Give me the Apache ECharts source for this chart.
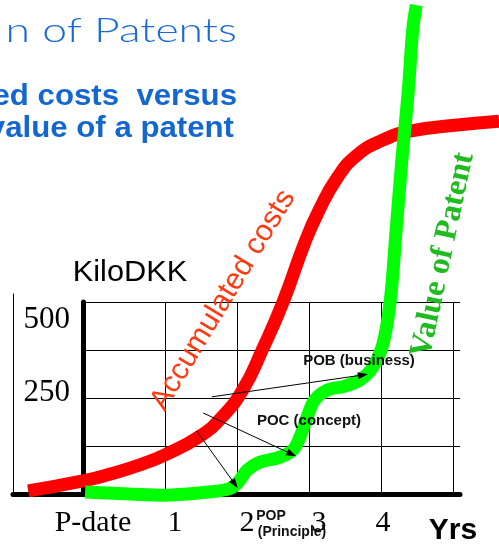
<!DOCTYPE html>
<html>
<head>
<meta charset="utf-8">
<script src="https://cdn.jsdelivr.net/npm/echarts@6/dist/echarts.min.js"></script>
<style>html,body{margin:0;padding:0;background:#fff}#c{width:499px;height:546px}</style>
</head>
<body>
<div id="c"></div>
<script>
// x: years after priority date (P-date = 0), y: KiloDKK
const xTickValues = [0, 1, 2, 3, 4, 5];
const xTickLabels = ['P-date', '1', '2', '3', '4', 'Yrs'];
const yTickValues = [250, 500];
const yTickLabels = ['250', '500'];

const costX = [-0.90, -0.14, 0.24, 0.65, 1.00, 1.49, 1.79, 2.08, 2.35, 2.64, 2.94, 3.13, 3.39, 3.67, 4.03, 4.40, 5.06, 5.64];
const costY = [8, 34, 52, 76, 102, 151, 200, 271, 375, 500, 654, 735, 823, 883, 922, 945, 961, 971];

const valueX = [-0.11, 0.51, 1.00, 1.49, 1.88, 2.01, 2.14, 2.32, 2.60, 2.78, 2.88, 2.97, 3.08, 3.26, 3.50, 3.71, 3.89, 4.03, 4.13, 4.21, 4.29, 4.38, 4.44, 4.49];
const valueY = [5, 0, -3, 3, 13, 29, 62, 83, 96, 115, 151, 198, 245, 271, 281, 297, 331, 393, 505, 687, 870, 1052, 1208, 1273];

const arrowNames = ['POP', 'POC', 'POB'];
const arrowFromX = [1.44, 1.53, 1.65];
const arrowFromY = [164, 211, 253];
const arrowToX = [1.97, 2.76, 3.75];
const arrowToY = [26, 104, 310];

const zip = (a, b) => a.map((v, i) => [v, b[i]]);

const chart = echarts.init(document.getElementById('c'), null, {renderer: 'canvas'});

const serif = '"Liberation Serif", "Times New Roman", serif';
const sans = '"Liberation Sans", Arial, sans-serif';

const option = {
  animation: false,
  grid: [
    {left: 13, right: 39, top: 294, bottom: 52},
    {left: 83, right: 39, top: 302, bottom: 52},
    {left: 93, right: 46, top: 302, bottom: 52},
    // data grid: same scale as grid 2 (72 px per year), widened so the curves can run past the frame
    {left: 21, right: 0, top: 302, bottom: 52}
  ],
  xAxis: [
    {gridIndex: 0, type: 'value', min: 0, max: 1,
      axisLine: {show: true, lineStyle: {color: '#000', width: 5}},
      axisTick: {show: false}, axisLabel: {show: false}, splitLine: {show: false}},
    {gridIndex: 1, type: 'value', min: 0, max: 1, show: false},
    {gridIndex: 2, type: 'value', min: 0, max: 5, interval: 1,
      axisLine: {show: false}, axisTick: {show: false},
      splitLine: {show: true, showMinLine: false, showMaxLine: true, lineStyle: {color: '#000', width: 1}},
      axisLabel: {
        show: true, margin: 14, color: '#000', fontFamily: serif, fontSize: 30,
        showMinLabel: true, showMaxLabel: true,
        formatter: function (v) {
          const i = xTickValues.indexOf(v);
          if (i < 0) return '';
          const t = xTickLabels[i];
          if (t === 'Yrs') return '{y|' + t + '}';
          if (t === 'P-date') return '{p|' + t + '}';
          if (t === '4') return '{f|' + t + '}';
          return '{d|' + t + '}';
        },
        rich: {
          p: {fontFamily: serif, fontSize: 30, color: '#000'},
          d: {fontFamily: serif, fontSize: 30, color: '#000', padding: [0, 0, 0, 20]},
          f: {fontFamily: serif, fontSize: 30, color: '#000', padding: [0, 0, 0, 4]},
          y: {fontFamily: sans, fontSize: 30, fontWeight: 'bold', color: '#000', padding: [8, 0, 0, 0]}
        }
      }},
    {gridIndex: 3, type: 'value', min: -1, max: 5.639, show: false}
  ],
  yAxis: [
    {gridIndex: 0, type: 'value', min: 0, max: 1,
      axisLine: {show: true, lineStyle: {color: '#000', width: 1}},
      axisTick: {show: false}, axisLabel: {show: false}, splitLine: {show: false}},
    {gridIndex: 1, type: 'value', min: 0, max: 500, interval: 125,
      axisLine: {show: true, lineStyle: {color: '#000', width: 5}},
      axisTick: {show: false},
      splitLine: {show: true, showMinLine: false, lineStyle: {color: '#000', width: 1}},
      axisLabel: {
        show: true, margin: 13, color: '#000',
        formatter: function (v) {
          const i = yTickValues.indexOf(v);
          if (i < 0) return '';
          return (v === 500 ? '{a|' : '{b|') + yTickLabels[i] + '}';
        },
        rich: {
          a: {fontFamily: serif, fontSize: 31, color: '#000', padding: [36, 0, 0, 0]},
          b: {fontFamily: serif, fontSize: 31, color: '#000', padding: [0, 0, 10, 0]}
        }
      }},
    {gridIndex: 2, type: 'value', min: 0, max: 500, interval: 125, show: false},
    {gridIndex: 3, type: 'value', min: 0, max: 500, show: false}
  ],
  series: [
    {
      name: 'Accumulated costs', type: 'line', xAxisIndex: 3, yAxisIndex: 3,
      data: zip(costX, costY), smooth: 0.5, symbol: 'none', clip: false,
      lineStyle: {color: '#ff0000', width: 13}, z: 3
    },
    {
      name: 'Value of Patent', type: 'line', xAxisIndex: 3, yAxisIndex: 3,
      data: zip(valueX, valueY), smooth: 0.35, symbol: 'none', clip: false,
      lineStyle: {color: '#00ff00', width: 13}, z: 4,
      markLine: {
        silent: true, symbol: ['none', 'triangle'], symbolSize: [7, 10], precision: 2,
        label: {show: false},
        lineStyle: {color: '#000', width: 1, type: 'solid'},
        data: arrowNames.map((n, i) => [
          {name: n, coord: [arrowFromX[i], arrowFromY[i]]},
          {coord: [arrowToX[i], arrowToY[i]]}
        ])
      }
    }
  ],
  graphic: [
    {type: 'text', x: 237, y: 31, scaleX: 1.31, style: {text: 'n of Patents', align: 'right', verticalAlign: 'middle',
      font: '300 34px Lato, "Open Sans", sans-serif', fill: '#1a6bd1'}},
    {type: 'text', x: 237, y: 97, scaleX: 1.04, style: {text: 'ed costs  versus', align: 'right', verticalAlign: 'middle',
      font: 'bold 30px ' + sans, fill: '#1467cf'}},
    {type: 'text', x: 234, y: 129, scaleX: 1.04, style: {text: 'value of a patent', align: 'right', verticalAlign: 'middle',
      font: 'bold 30px ' + sans, fill: '#1467cf'}},
    {type: 'text', x: 130, y: 273, scaleX: 1.06, style: {text: 'KiloDKK', align: 'center', verticalAlign: 'middle',
      font: '29px ' + sans, fill: '#000'}},
    {type: 'text', x: 223, y: 300, rotation: 1.025, z: 10, style: {text: 'Accumulated costs', align: 'center', verticalAlign: 'middle',
      font: '30px ' + sans, fill: '#ff3a10'}},
    {type: 'text', x: 443, y: 255, rotation: 1.36, z: 10, style: {text: 'Value of Patent', align: 'center', verticalAlign: 'middle',
      font: 'bold 32px ' + serif, fill: '#1fbb1f'}},
    {type: 'text', x: 359, y: 361, z: 10, style: {text: 'POB (business)', align: 'center', verticalAlign: 'middle',
      font: 'bold 15px ' + sans, fill: '#111'}},
    {type: 'text', x: 309, y: 421, z: 10, style: {text: 'POC (concept)', align: 'center', verticalAlign: 'middle',
      font: 'bold 15px ' + sans, fill: '#111'}},
    {type: 'text', x: 271, y: 516, z: 10, style: {text: 'POP', align: 'center', verticalAlign: 'middle',
      font: 'bold 14px ' + sans, fill: '#111'}},
    {type: 'text', x: 292, y: 532, z: 10, style: {text: '(Principle)', align: 'center', verticalAlign: 'middle',
      font: 'bold 14px ' + sans, fill: '#111'}}
  ]
};
chart.setOption(option);
</script>
</body>
</html>
